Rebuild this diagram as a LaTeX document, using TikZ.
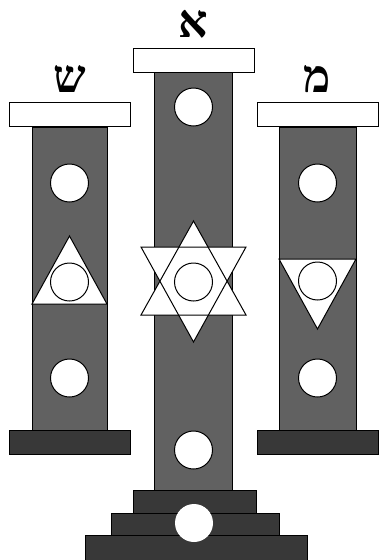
\documentclass[tikz,border=0pt]{standalone}
\usepackage{fontspec}
\newfontfamily\hebfont[Script=Hebrew]{Liberation Serif}
\TeXXeTstate=1
\usetikzlibrary{positioning}
\definecolor{shaftgray}{gray}{0.38}
\definecolor{basegray}{gray}{0.22}

\begin{document}
\begin{tikzpicture}[x=1pt, y=-1pt, line width=1pt]
    % Stijlen
    \tikzstyle{capital} = [rectangle, draw=black, fill=white, minimum width=121pt, minimum height=24pt, inner sep=0pt]
    \tikzstyle{shaft} = [rectangle, draw=black, fill=shaftgray, inner sep=0pt]
    \tikzstyle{plinth} = [rectangle, draw=black, fill=basegray, inner sep=0pt, minimum height=24pt]
    \tikzstyle{hole} = [circle, draw=black, fill=white, minimum size=38pt, inner sep=0pt]
    \tikzstyle{letter} = [inner sep=0pt, font=\hebfont\bfseries\fontsize{46}{46}\selectfont]
    \tikzstyle{tri} = [draw=black, fill=white, line join=miter]

    \useasboundingbox (0,0) rectangle (380,560);

    % Linker zuil
    \node (shaftL) [shaft, minimum width=75pt, minimum height=303pt] at (69.5,278.5) {};
    \node (capL) [capital] at (69.5,114.75) {};
    \node (baseL) [plinth, minimum width=121pt] at (69.5,442.5) {};
    \node (shin) [letter, above=9pt of capL] {\beginR ש\endR};
    \draw [tri] (69.5,236) -- (107,304) -- (32,304) -- cycle;
    \node (holeL1) [hole] at (69.5,183) {};
    \node (holeL2) [hole] at (69.5,282) {};
    \node (holeL3) [hole] at (69.5,378) {};

    % Middelste zuil
    \node (shaftC) [shaft, minimum width=78pt, minimum height=418pt] at (193.5,281) {};
    \node (capC) [capital] at (193.5,60) {};
    \node (stepC1) [plinth, minimum width=123pt, minimum height=23pt] at (194.5,501.5) {};
    \node (stepC2) [plinth, minimum width=168pt, minimum height=22pt] at (195,524) {};
    \node (stepC3) [plinth, minimum width=222pt, minimum height=25pt] at (196,547.5) {};
    \node (alef) [letter, above=9pt of capC] {\beginR א\endR};
    \fill [white] (193.5,221) -- (246,315) -- (141,315) -- cycle;
    \fill [white] (193.5,342) -- (246,247) -- (141,247) -- cycle;
    \draw [line join=miter] (193.5,221) -- (246,315) -- (141,315) -- cycle;
    \draw [line join=miter] (193.5,342) -- (246,247) -- (141,247) -- cycle;
    \node (holeC1) [hole] at (193.5,107) {};
    \node (holeC2) [hole] at (193.5,282) {};
    \node (holeC3) [hole] at (193.5,450) {};
    \node (holeC4) [hole, draw=none] at (194,523) {};

    % Rechter zuil
    \node (shaftR) [shaft, minimum width=77pt, minimum height=303pt] at (317.5,278.5) {};
    \node (capR) [capital] at (317.5,114.75) {};
    \node (baseR) [plinth, minimum width=121pt] at (317.5,442.5) {};
    \node (mem) [letter, above=9pt of capR] {\beginR מ\endR};
    \draw [tri] (279,259) -- (356,259) -- (317.5,329) -- cycle;
    \node (holeR1) [hole] at (317.5,183) {};
    \node (holeR2) [hole] at (317.5,281) {};
    \node (holeR3) [hole] at (317.5,378) {};

\end{tikzpicture}
\end{document}
